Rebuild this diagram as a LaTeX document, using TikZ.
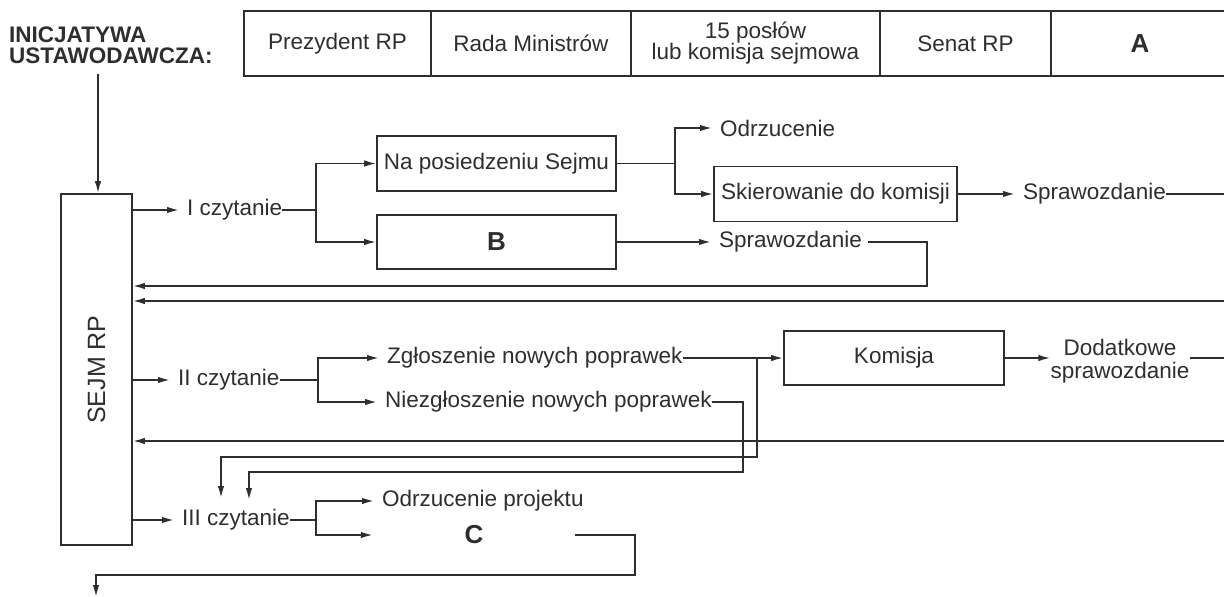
\documentclass[tikz,border=0pt]{standalone}
\usepackage{fontspec}
\setmainfont{Liberation Sans}
\usetikzlibrary{arrows.meta}
\definecolor{ink}{HTML}{2E2E2E}

\begin{document}
\begin{tikzpicture}[x=1pt, y=-1pt,
  every node/.style={font=\fontsize{22.5}{21}\selectfont, text=ink},
  box/.style={rectangle, draw=ink, line width=1.7pt, inner sep=0pt},
  cell/.style={box, minimum height=65pt, align=center},
  txt/.style={inner sep=0pt, anchor=west},
  letter/.style={font=\fontsize{26}{26}\selectfont\bfseries},
  conn/.style={draw=ink, line width=1.7pt},
  arrow/.style={conn, -{Latex[length=12pt,width=6.5pt]}},
  arrowt/.style={arrow, shorten >=8pt}
]
\useasboundingbox (0,0) rectangle (1224,597);

\node[txt, font=\fontsize{22.5}{21}\selectfont\bfseries, align=left] (title) at (9,45) {INICJATYWA\\USTAWODAWCZA:};

\node[cell, minimum width=187pt] (prez) at (337.5,43.5) {Prezydent RP};
\node[cell, minimum width=200pt] (rada) at (531,43.5) {Rada Ministrów};
\node[cell, minimum width=249pt] (poslowie) at (755.5,43.5) {15 posłów\\lub komisja sejmowa};
\node[cell, minimum width=171pt] (senat) at (965.5,43.5) {Senat RP};
\node[cell, minimum width=178pt, letter] (cellA) at (1140,43.5) {A};

\node[box, minimum width=71pt, minimum height=351pt] (sejm) at (96.5,369.5) {};
\node[rotate=90, font=\fontsize{25}{25}\selectfont] (sejmtxt) at (sejm.center) {SEJM RP};

\coordinate (start) at (98,74);
\draw[arrow] (start) -- (start |- sejm.north);

\node[txt] (czyt1) at (187,210) {I czytanie};
\draw[arrowt] (sejm.east |- czyt1) -- (czyt1.west);
\coordinate (br1) at (316,210);
\draw[conn] (czyt1.east) -- (br1);
\node[box, minimum width=239pt, minimum height=55pt] (posiedz) at (496.5,163.5) {Na posiedzeniu Sejmu};
\node[box, minimum width=239pt, minimum height=54pt, letter] (boxB) at (496.5,242) {B};
\draw[arrow] (br1) |- (posiedz.west);
\draw[arrow] (br1) |- (boxB.west);

\coordinate (br2) at (675,163.5);
\draw[conn] (posiedz.east) -- (br2);
\node[txt] (odrz) at (720,128) {Odrzucenie};
\draw[arrowt] (br2) |- (odrz.west);
\node[box, minimum width=243pt, minimum height=55pt] (skier) at (835.5,194) {Skierowanie do komisji};
\draw[arrow] (br2) |- (skier.west);
\node[txt] (spraw1) at (1023,194) {Sprawozdanie};
\draw[arrowt] (skier.east) -- (spraw1.west);
\coordinate (out1) at (1230,194);
\draw[conn] (spraw1.east) -- (out1);

\node[txt] (spraw2) at (719,242) {Sprawozdanie};
\draw[arrowt] (boxB.east) -- (spraw2.west);
\coordinate (ret1) at (927,286);
\draw[arrow] ([xshift=6pt]spraw2.east) -| (ret1) -- (sejm.east |- ret1);
\coordinate (ret2) at (1230,301);
\draw[arrow] (ret2) -- (sejm.east |- ret2);

\node[txt] (czyt2) at (178,380) {II czytanie};
\draw[arrowt] (sejm.east |- czyt2) -- (czyt2.west);
\coordinate (br3) at (318,380);
\draw[conn] (czyt2.east) -- (br3);
\node[txt] (zgl) at (387,358) {Zgłoszenie nowych poprawek};
\node[txt] (niezgl) at (385,402) {Niezgłoszenie nowych poprawek};
\draw[arrowt] (br3) |- (zgl.west);
\draw[arrowt] (br3) |- (niezgl.west);

\node[box, minimum width=220pt, minimum height=54pt] (komisja) at (894,358) {Komisja};
\draw[arrow] (zgl.east) -- (komisja.west);
\coordinate (j1) at (757,358);
\coordinate (k1) at (757,457);
\coordinate (d1) at (221,498);
\draw[arrow] (j1) -- (k1) -| (d1);
\coordinate (k2) at (743,472);
\coordinate (d2) at (249,500);
\draw[arrow] (niezgl.east) -| (k2) -| (d2);

\node[align=center, inner sep=0pt, font=\fontsize{22.5}{23}\selectfont] (dodatk) at (1120,361) {Dodatkowe\\sprawozdanie};
\draw[arrow] (komisja.east) -- (komisja.east -| dodatk.west);
\coordinate (out2) at (1230,358);
\draw[conn] (dodatk.east |- out2) -- (out2);
\coordinate (ret3) at (1230,441);
\draw[arrow] (ret3) -- (sejm.east |- ret3);

\node[txt] (czyt3) at (182,520) {III czytanie};
\draw[arrowt] (sejm.east |- czyt3) -- (czyt3.west);
\coordinate (br4) at (316,520);
\draw[conn] (czyt3.east) -- (br4);
\node[txt] (odrzproj) at (382,501) {Odrzucenie projektu};
\draw[arrowt] (br4) |- (odrzproj.west);
\node[letter, minimum width=202pt, inner sep=0pt] (nodeC) at (474,535) {C};
\draw[arrow] (br4) |- (nodeC.west);
\coordinate (k3) at (635,575);
\coordinate (exit) at (96,597);
\draw[arrow] (nodeC.east) -| (k3) -| (exit);

\end{tikzpicture}
\end{document}
